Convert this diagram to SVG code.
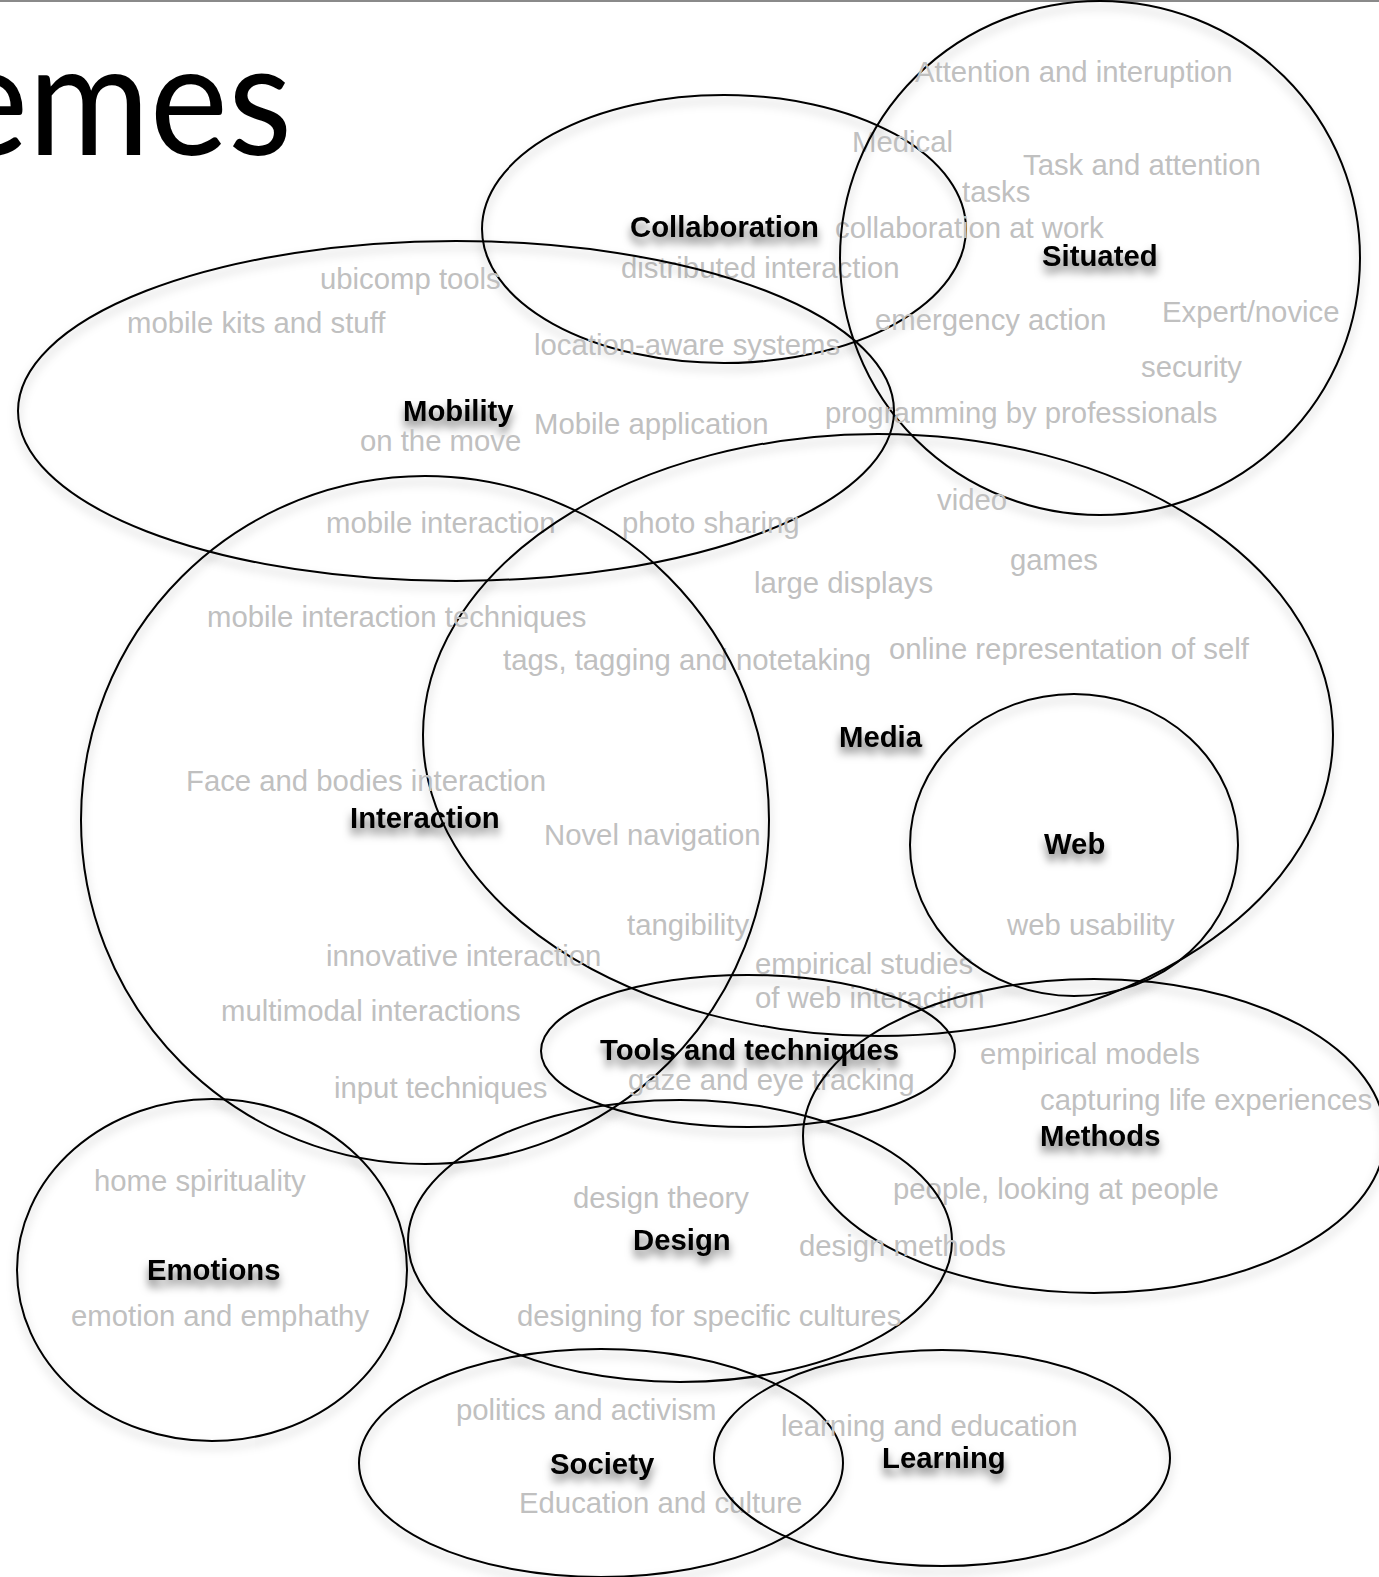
<svg xmlns="http://www.w3.org/2000/svg" width="1379" height="1577" viewBox="0 0 1379 1577">
<defs>
<filter id="shE" x="-10%" y="-10%" width="120%" height="125%">
<feDropShadow dx="0" dy="6" stdDeviation="5" flood-color="#000" flood-opacity="0.28"/>
</filter>
<filter id="shT" x="-10%" y="-30%" width="120%" height="180%">
<feDropShadow dx="0" dy="7" stdDeviation="4" flood-color="#000" flood-opacity="0.55"/>
</filter>
</defs>
<style>
.e{fill:none;stroke:#000;stroke-width:2;filter:url(#shE)}
.t{font-family:"Liberation Sans",Arial,Helvetica,sans-serif;font-size:29.3px;fill:#c0c0c0}
.b{font-family:"Liberation Sans",Arial,Helvetica,sans-serif;font-size:29.3px;font-weight:bold;fill:#000;filter:url(#shT)}
.title{font-family:Lato,"Open Sans",sans-serif;font-size:158px;fill:#000}
</style>
<rect width="1379" height="1577" fill="#fff"/>
<line x1="0" y1="1" x2="1379" y2="1" stroke="#8a8a8a" stroke-width="2"/>
<text class="title" x="-50" y="155" textLength="342" lengthAdjust="spacingAndGlyphs">emes</text>

<g id="collaboration">
<ellipse class="e" cx="724" cy="229" rx="242" ry="134"/>
<text class="b" x="630" y="237">Collaboration</text>
<text class="t" x="621" y="278">distributed interaction</text>
<text class="t" x="852" y="152">Medical</text>
<text class="t" x="835" y="238">collaboration at work</text>
</g>

<g id="situated">
<ellipse class="e" cx="1100" cy="258" rx="260" ry="257"/>
<text class="b" x="1042" y="266">Situated</text>
<text class="t" x="915" y="82">Attention and interuption</text>
<text class="t" x="1023" y="175">Task and attention</text>
<text class="t" x="962" y="202">tasks</text>
<text class="t" x="1162" y="322">Expert/novice</text>
<text class="t" x="875" y="330">emergency action</text>
<text class="t" x="1141" y="377">security</text>
<text class="t" x="825" y="423">programming by professionals</text>
</g>

<g id="mobility">
<ellipse class="e" cx="456" cy="411" rx="438" ry="170"/>
<text class="b" x="403" y="421">Mobility</text>
<text class="t" x="360" y="451">on the move</text>
<text class="t" x="320" y="289">ubicomp tools</text>
<text class="t" x="127" y="333">mobile kits and stuff</text>
<text class="t" x="534" y="355">location-aware systems</text>
<text class="t" x="534" y="434">Mobile application</text>
<text class="t" x="326" y="533">mobile interaction</text>
<text class="t" x="622" y="533">photo sharing</text>
</g>

<g id="media">
<ellipse class="e" cx="878" cy="735" rx="455" ry="301"/>
<text class="b" x="839" y="747">Media</text>
<text class="t" x="937" y="510">video</text>
<text class="t" x="1010" y="570">games</text>
<text class="t" x="754" y="593">large displays</text>
<text class="t" x="503" y="670">tags, tagging and notetaking</text>
<text class="t" x="889" y="659">online representation of self</text>
<text class="t" x="544" y="845">Novel navigation</text>
<text class="t" x="627" y="935">tangibility</text>
<text class="t" x="755" y="974">empirical studies</text>
<text class="t" x="755" y="1008">of web interaction</text>
</g>

<g id="interaction">
<ellipse class="e" cx="425" cy="820" rx="344" ry="344"/>
<text class="b" x="350" y="828">Interaction</text>
<text class="t" x="207" y="627">mobile interaction techniques</text>
<text class="t" x="186" y="791">Face and bodies interaction</text>
<text class="t" x="326" y="966">innovative interaction</text>
<text class="t" x="221" y="1021">multimodal interactions</text>
<text class="t" x="334" y="1098">input techniques</text>
</g>

<g id="web">
<ellipse class="e" cx="1074" cy="845" rx="164" ry="151"/>
<text class="b" x="1044" y="854">Web</text>
<text class="t" x="1007" y="935">web usability</text>
</g>

<g id="tools">
<ellipse class="e" cx="748" cy="1051" rx="207" ry="76"/>
<text class="b" x="600" y="1060">Tools and techniques</text>
<text class="t" x="628" y="1090">gaze and eye tracking</text>
</g>

<g id="methods">
<ellipse class="e" cx="1094" cy="1136" rx="291" ry="157"/>
<text class="b" x="1040" y="1146">Methods</text>
<text class="t" x="980" y="1064">empirical models</text>
<text class="t" x="1040" y="1110">capturing life experiences</text>
<text class="t" x="893" y="1199">people, looking at people</text>
</g>

<g id="design">
<ellipse class="e" cx="680" cy="1241" rx="272" ry="141"/>
<text class="b" x="633" y="1250">Design</text>
<text class="t" x="573" y="1208">design theory</text>
<text class="t" x="799" y="1256">design methods</text>
<text class="t" x="517" y="1326">designing for specific cultures</text>
</g>

<g id="emotions">
<ellipse class="e" cx="212" cy="1270" rx="195" ry="171"/>
<text class="b" x="147" y="1280">Emotions</text>
<text class="t" x="94" y="1191">home spirituality</text>
<text class="t" x="71" y="1326">emotion and emphathy</text>
</g>

<g id="society">
<ellipse class="e" cx="601" cy="1463" rx="242" ry="114"/>
<text class="b" x="550" y="1474">Society</text>
<text class="t" x="456" y="1420">politics and activism</text>
<text class="t" x="519" y="1513">Education and culture</text>
</g>

<g id="learning">
<ellipse class="e" cx="942" cy="1458" rx="228" ry="108"/>
<text class="b" x="882" y="1468">Learning</text>
<text class="t" x="781" y="1436">learning and education</text>
</g>
</svg>
